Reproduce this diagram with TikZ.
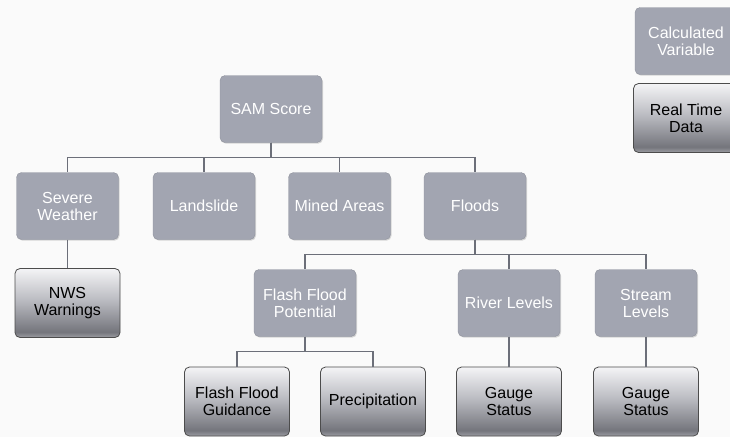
\documentclass[tikz,border=0pt]{standalone}
\usepackage{fontspec}
\setmainfont{Liberation Sans}
\usetikzlibrary{positioning,shadows}

\definecolor{calcfill}{HTML}{A2A5B1}
\definecolor{calcedge}{HTML}{8E919C}
\definecolor{rttop}{HTML}{F4F4F6}
\definecolor{rtmid}{HTML}{BABBC1}
\definecolor{rtdark}{HTML}{74757C}
\definecolor{rtbot}{HTML}{9C9DA3}
\definecolor{linkgray}{HTML}{6C6F79}
\definecolor{bggray}{HTML}{FAFAFA}

\pgfdeclareverticalshading{rtshade}{100bp}{color(0bp)=(rtbot); color(25bp)=(rtbot);
  color(29bp)=(rtdark); color(52bp)=(rtmid); color(75bp)=(rttop); color(100bp)=(rttop)}

\tikzset{node distance=97pt}
\tikzset{
  box/.style={rounded corners=5pt, minimum width=102pt, minimum height=67pt,
    align=center, inner sep=1pt, font=\fontsize{16}{17}\selectfont},
  calc/.style={box, fill=calcfill, draw=calcedge, line width=0.4pt, text=white,
    drop shadow={opacity=0.3, shadow xshift=1pt, shadow yshift=-1.2pt}},
  rtdata/.style={box, minimum width=105pt, minimum height=69pt, shading=rtshade,
    draw=black!70, line width=0.8pt, text=black},
  link/.style={draw=linkgray, line width=1.4pt}
}

\begin{document}
\begin{tikzpicture}
      \fill [bggray] (0,0) rectangle (730pt,-437pt);
      \useasboundingbox (0,0) rectangle (730pt,-437pt);

      \node [calc] (sam) at (271pt,-109pt) {SAM Score};
      % row 2
      \node [calc,below of=sam,xshift=-203.5pt] (sev) {Severe\\Weather};
      \node [calc,below of=sam,xshift=-67pt] (land) {Landslide};
      \node [calc,below of=sam,xshift=68.5pt] (mined) {Mined Areas};
      \node [calc,below of=sam,xshift=204pt] (flood) {Floods};
      % row 3
      \node [rtdata,below of=sev] (nws) {NWS\\Warnings};
      \node [calc,below of=flood,xshift=-170pt] (ffp) {Flash Flood\\Potential};
      \node [calc,below of=flood,xshift=34pt] (river) {River Levels};
      \node [calc,below of=flood,xshift=171pt] (stream) {Stream\\Levels};
      % row 4
      \node [rtdata,below of=ffp,xshift=-68pt,yshift=-1.5pt] (ffg) {Flash Flood\\Guidance};
      \node [rtdata,below of=ffp,xshift=68pt,yshift=-1.5pt] (precip) {Precipitation};
      \node [rtdata,below of=river,yshift=-1.5pt] (gauge1) {Gauge\\Status};
      \node [rtdata,below of=stream,yshift=-1.5pt] (gauge2) {Gauge\\Status};

      % key
      \node [calc] (keycalc) at (686pt,-41pt) {Calculated\\Variable};
      \node [rtdata] (keyrt) at (686pt,-118pt) {Real Time\\Data};

      % links
      \draw [link] (sam.south) -- ++(0,-15pt) -| (sev.north);
      \draw [link] (sam.south) -- ++(0,-15pt) -| (land.north);
      \draw [link] (sam.south) -- ++(0,-15pt) -| (mined.north);
      \draw [link] (sam.south) -- ++(0,-15pt) -| (flood.north);
      \draw [link] (sev) -- (nws);
      \draw [link] (flood.south) -- ++(0,-15pt) -| (ffp.north);
      \draw [link] (flood.south) -- ++(0,-15pt) -| (river.north);
      \draw [link] (flood.south) -- ++(0,-15pt) -| (stream.north);
      \draw [link] (ffp.south) -- ++(0,-15pt) -| (ffg.north);
      \draw [link] (ffp.south) -- ++(0,-15pt) -| (precip.north);
      \draw [link] (river) -- (gauge1);
      \draw [link] (stream) -- (gauge2);
    \end{tikzpicture}
\end{document}
